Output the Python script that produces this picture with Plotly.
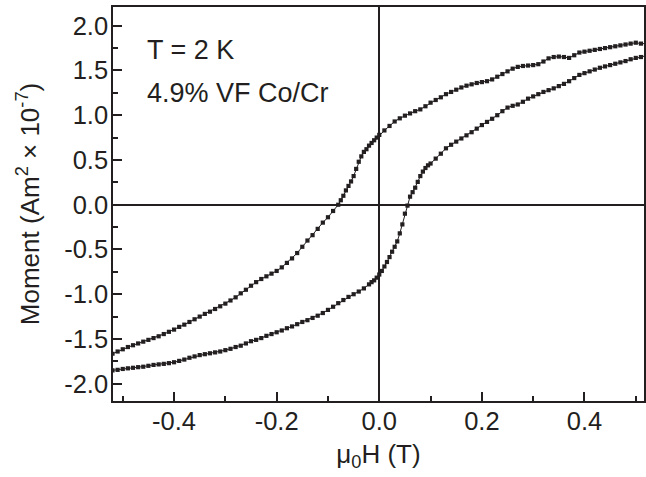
import plotly.graph_objects as go

# Descending branch (upper curve in the right half), field in T, moment in 1e-7 Am^2
h_down = [-0.52, -0.51, -0.50, -0.49, -0.48, -0.47, -0.46, -0.45, -0.44, -0.43,
          -0.42, -0.41, -0.40, -0.39, -0.38, -0.37, -0.36, -0.35, -0.34, -0.33,
          -0.32, -0.31, -0.30, -0.29, -0.28, -0.27, -0.26, -0.25, -0.24, -0.23,
          -0.22, -0.21, -0.20, -0.19, -0.18, -0.17, -0.16, -0.15, -0.14, -0.13,
          -0.12, -0.11, -0.10, -0.09, -0.08, -0.075, -0.07, -0.065, -0.06, -0.055,
          -0.05, -0.045, -0.04, -0.035, -0.03, -0.025, -0.02, -0.015, -0.01, -0.005,
          0.0, 0.01, 0.02, 0.03, 0.04, 0.05, 0.06, 0.07, 0.08, 0.09,
          0.10, 0.11, 0.12, 0.13, 0.14, 0.15, 0.16, 0.17, 0.18, 0.19,
          0.20, 0.21, 0.22, 0.23, 0.24, 0.25, 0.26, 0.27, 0.28, 0.29,
          0.30, 0.31, 0.32, 0.33, 0.34, 0.35, 0.36, 0.37, 0.38, 0.39,
          0.40, 0.41, 0.42, 0.43, 0.44, 0.45, 0.46, 0.47, 0.48, 0.49,
          0.50, 0.51, 0.52]
m_down = [-1.665, -1.64, -1.615, -1.59, -1.57, -1.55, -1.53, -1.51, -1.49, -1.47,
          -1.445, -1.42, -1.395, -1.365, -1.34, -1.31, -1.28, -1.25, -1.22, -1.195,
          -1.165, -1.135, -1.105, -1.07, -1.035, -0.99, -0.95, -0.905, -0.865, -0.83,
          -0.80, -0.77, -0.74, -0.70, -0.65, -0.60, -0.54, -0.47, -0.40, -0.34,
          -0.27, -0.20, -0.14, -0.07, 0.0, 0.05, 0.10, 0.16, 0.21, 0.26,
          0.32, 0.40, 0.48, 0.54, 0.59, 0.62, 0.66, 0.69, 0.72, 0.75,
          0.78, 0.83, 0.88, 0.93, 0.965, 0.995, 1.02, 1.045, 1.065, 1.10,
          1.14, 1.17, 1.20, 1.235, 1.26, 1.285, 1.31, 1.33, 1.345, 1.36,
          1.37, 1.38, 1.40, 1.43, 1.46, 1.49, 1.52, 1.54, 1.55, 1.555,
          1.56, 1.57, 1.60, 1.635, 1.65, 1.655, 1.65, 1.64, 1.67, 1.70,
          1.71, 1.72, 1.73, 1.74, 1.75, 1.76, 1.77, 1.78, 1.79, 1.80,
          1.81, 1.80, 1.80]

# Ascending branch (lower curve in the right half)
h_up = [-0.52, -0.51, -0.50, -0.49, -0.48, -0.47, -0.46, -0.45, -0.44, -0.43,
        -0.42, -0.41, -0.40, -0.39, -0.38, -0.37, -0.36, -0.35, -0.34, -0.33,
        -0.32, -0.31, -0.30, -0.29, -0.28, -0.27, -0.26, -0.25, -0.24, -0.23,
        -0.22, -0.21, -0.20, -0.19, -0.18, -0.17, -0.16, -0.15, -0.14, -0.13,
        -0.12, -0.11, -0.10, -0.09, -0.08, -0.07, -0.06, -0.05, -0.04, -0.03,
        -0.02, -0.015, -0.01, -0.005, 0.0, 0.005, 0.01, 0.015, 0.02, 0.025,
        0.03, 0.035, 0.04, 0.045, 0.05, 0.055, 0.06, 0.065, 0.07, 0.075,
        0.08, 0.085, 0.09, 0.095, 0.10, 0.11, 0.12, 0.13, 0.14, 0.15,
        0.16, 0.17, 0.18, 0.19, 0.20, 0.21, 0.22, 0.23, 0.24, 0.25,
        0.26, 0.27, 0.28, 0.29, 0.30, 0.31, 0.32, 0.33, 0.34, 0.35,
        0.36, 0.37, 0.38, 0.39, 0.40, 0.41, 0.42, 0.43, 0.44, 0.45,
        0.46, 0.47, 0.48, 0.49, 0.50, 0.51, 0.52]
m_up = [-1.85, -1.845, -1.835, -1.828, -1.822, -1.815, -1.81, -1.80, -1.79, -1.784,
        -1.778, -1.77, -1.76, -1.745, -1.73, -1.71, -1.695, -1.68, -1.67, -1.66,
        -1.65, -1.64, -1.625, -1.61, -1.59, -1.575, -1.55, -1.525, -1.51, -1.49,
        -1.465, -1.445, -1.425, -1.405, -1.38, -1.36, -1.335, -1.31, -1.29, -1.265,
        -1.24, -1.21, -1.175, -1.14, -1.10, -1.065, -1.03, -1.00, -0.97, -0.935,
        -0.89, -0.865, -0.845, -0.815, -0.78, -0.74, -0.69, -0.64, -0.585, -0.525,
        -0.47, -0.41, -0.32, -0.22, -0.10, -0.01, 0.09, 0.14, 0.19, 0.255,
        0.32, 0.37, 0.41, 0.44, 0.46, 0.515, 0.57, 0.63, 0.67, 0.705,
        0.74, 0.775, 0.81, 0.85, 0.89, 0.925, 0.96, 1.00, 1.045, 1.085,
        1.105, 1.12, 1.15, 1.185, 1.21, 1.235, 1.26, 1.28, 1.30, 1.325,
        1.35, 1.38, 1.415, 1.45, 1.47, 1.49, 1.51, 1.53, 1.545, 1.56,
        1.575, 1.59, 1.605, 1.625, 1.64, 1.65, 1.665]

x_ticks = [-0.4, -0.2, 0.0, 0.2, 0.4]
x_labels = ["-0.4", "-0.2", "0.0", "0.2", "0.4"]
y_ticks = [-2.0, -1.5, -1.0, -0.5, 0.0, 0.5, 1.0, 1.5, 2.0]
y_labels = ["-2.0", "-1.5", "-1.0", "-0.5", "0.0", "0.5", "1.0", "1.5", "2.0"]

ink = "#231f20"
font_family = "Liberation Sans, Arial, sans-serif"

fig = go.Figure()
for hx, my in ((h_down, m_down), (h_up, m_up)):
    fig.add_trace(go.Scatter(
        x=hx, y=my, mode="lines+markers",
        line=dict(color=ink, width=1),
        marker=dict(symbol="square", size=4.2, color=ink, line=dict(width=0)),
        showlegend=False, cliponaxis=True,
    ))

axis_common = dict(
    showline=True, linecolor=ink, linewidth=1.5, mirror=True,
    ticks="inside", ticklen=9, tickwidth=1.5, tickcolor=ink,
    showgrid=False, zeroline=True, zerolinecolor=ink, zerolinewidth=1.5,
    tickfont=dict(family=font_family, size=25.5, color=ink),
)

fig.update_xaxes(
    range=[-0.519, 0.516], tickvals=x_ticks, ticktext=x_labels,
    ticklabelstandoff=-3,
    minor=dict(dtick=0.1, tick0=0, ticks="inside", ticklen=5, tickwidth=1.5, tickcolor=ink),
    title=dict(text="μ<sub>0</sub>H (T)", font=dict(family=font_family, size=26, color=ink), standoff=10),
    **axis_common,
)
fig.update_yaxes(
    range=[-2.193, 2.209], tickvals=y_ticks, ticktext=y_labels,
    ticklabelstandoff=-2,
    minor=dict(dtick=0.25, tick0=0, ticks="inside", ticklen=5, tickwidth=1.5, tickcolor=ink),
    title=dict(text="Moment (Am<sup>2</sup> × 10<sup>-7</sup>)", font=dict(family=font_family, size=26, color=ink), standoff=17),
    **axis_common,
)

fig.add_annotation(x=145, y=50, xref="paper", yref="paper", text="T = 2 K", showarrow=False,
                   font=dict(family=font_family, size=27, color=ink), xanchor="left", yanchor="middle")
fig.add_annotation(x=145, y=93, xref="paper", yref="paper", text="4.9% VF Co/Cr", showarrow=False,
                   font=dict(family=font_family, size=27, color=ink), xanchor="left", yanchor="middle")

# convert pixel positions of annotations to paper coords
W, H = 646, 477
L, R, T, B = 113, 0, 7, 76
pw, ph = W - L - R, H - T - B
for ann in fig.layout.annotations:
    px, py = ann.x, ann.y
    ann.x = (px - L) / pw
    ann.y = 1 - (py - T) / ph

fig.update_layout(
    width=W, height=H,
    margin=dict(l=L, r=R, t=T, b=B, pad=0),
    paper_bgcolor="white", plot_bgcolor="white",
    font=dict(family=font_family, color=ink),
)

fig.write_html("out.html")
